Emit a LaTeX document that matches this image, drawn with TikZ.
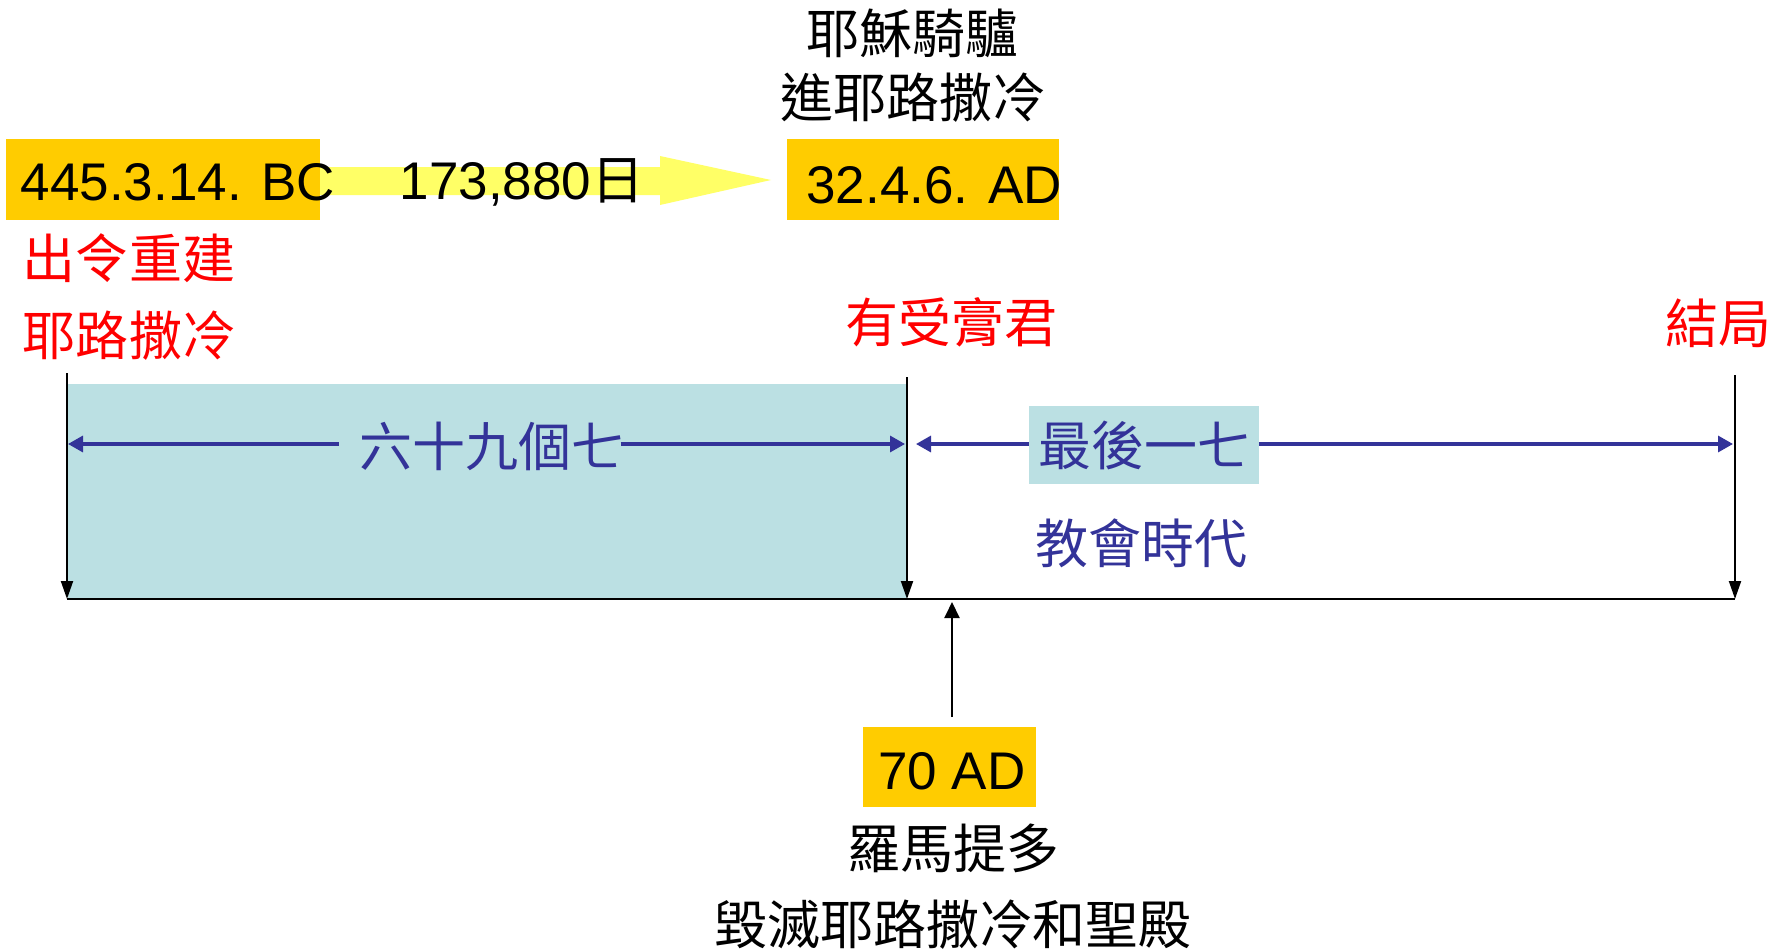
\documentclass[tikz,border=0pt]{standalone}
\usepackage{fontspec}
\setmainfont{Liberation Sans}
\newfontfamily\cjk{Noto Sans CJK TC}
\usetikzlibrary{arrows.meta}
\definecolor{gold}{HTML}{FFCC00}
\definecolor{paleyel}{HTML}{FFFF66}
\definecolor{tealbg}{HTML}{BBE0E3}
\definecolor{navy}{HTML}{333399}
\tikzset{
  latin/.style={font=\fontsize{53}{60}\selectfont, inner sep=0pt},
  han/.style={font=\fontsize{53}{60}\selectfont\cjk, inner sep=0pt},
  datebox/.style={fill=gold, inner sep=0pt, draw=none},
  tick/.style={line width=2pt, -{Triangle[width=12pt,length=18pt]}},
  spanr/.style={line width=3.2pt, navy, -{Triangle[width=16pt,length=15pt]}},
  spanl/.style={line width=3.2pt, navy, {Triangle[width=16pt,length=15pt]}-},
}
\begin{document}
\begin{tikzpicture}[x=1pt,y=-1pt]
\useasboundingbox[fill=white] (0,0) rectangle (1785,950);

% timeline coordinates
\coordinate (t0) at (67,599);
\coordinate (t1) at (907,599);
\coordinate (t2) at (1735,599);
\coordinate (t0top) at (67,373);
\coordinate (t1top) at (907,377);
\coordinate (t2top) at (1735,375);

% teal block
\fill[tealbg] (68,384) rectangle (907,599);

% yellow block arrow
\fill[paleyel] (300,167) -- (660,167) -- (660,156) -- (771,180) -- (660,205) -- (660,195) -- (300,195) -- cycle;

% date boxes
\node[datebox, minimum width=314pt, minimum height=81pt] (bcbox) at (163,179.5) {};
\node[latin] (bc) at (178,182) {445.3.14. BC};
\node[latin] (days) at (522,182) {173,880{\cjk 日}};
\node[datebox, minimum width=272pt, minimum height=81pt] (adbox) at (923,179.5) {};
\node[latin] (ad) at (934,185) {32.4.6. AD};

% top labels
\node[han] (ride) at (912,33) {耶穌騎驢};
\node[han] (enter) at (913,98) {進耶路撒冷};

% red labels
\node[han, red] (decree) at (129,258) {出令重建};
\node[han, red] (jer) at (129,336) {耶路撒冷};
\node[han, red] (anoint) at (951,322) {有受膏君};
\node[han, red] (endlbl) at (1718,323) {結局};

% baseline and ticks
\draw[line width=2.6pt] (t0) -- (t2);
\draw[tick] (t0top) -- (t0);
\draw[tick] (t1top) -- (t1);
\draw[tick] (t2top) -- (t2);

% 69 sevens
\coordinate (a0) at (68,444);
\coordinate (a1) at (905,444);
\node[han, navy] (sixty) at (492,446) {六十九個七};
\draw[spanl] (a0) -- ([xshift=-20pt]sixty.west |- a0);
\draw[spanr] ([xshift=-4pt]sixty.east |- a1) -- (a1);

% last seven
\coordinate (b0) at (916,444);
\coordinate (b1) at (1733,444);
\node[han, navy, fill=tealbg, minimum width=230pt, minimum height=78pt] (last) at (1144,445) {最後一七};
\draw[spanl] (b0) -- (last.west |- b0);
\draw[spanr] (last.east |- b1) -- (b1);

\node[han, navy] (church) at (1141,543) {教會時代};

% 70 AD
\node[datebox, minimum width=173pt, minimum height=80pt] (box70) at (949.5,767) {};
\node[latin] (seventy) at (952,771) {70 AD};
\coordinate (up0) at (952,717);
\coordinate (up1) at (952,602);
\draw[line width=2pt, -{Triangle[width=15pt,length=16pt]}] (up0) -- (up1);

\node[han] (titus) at (953,848) {羅馬提多};
\node[han] (destroy) at (953,925) {毀滅耶路撒冷和聖殿};
\end{tikzpicture}
\end{document}
